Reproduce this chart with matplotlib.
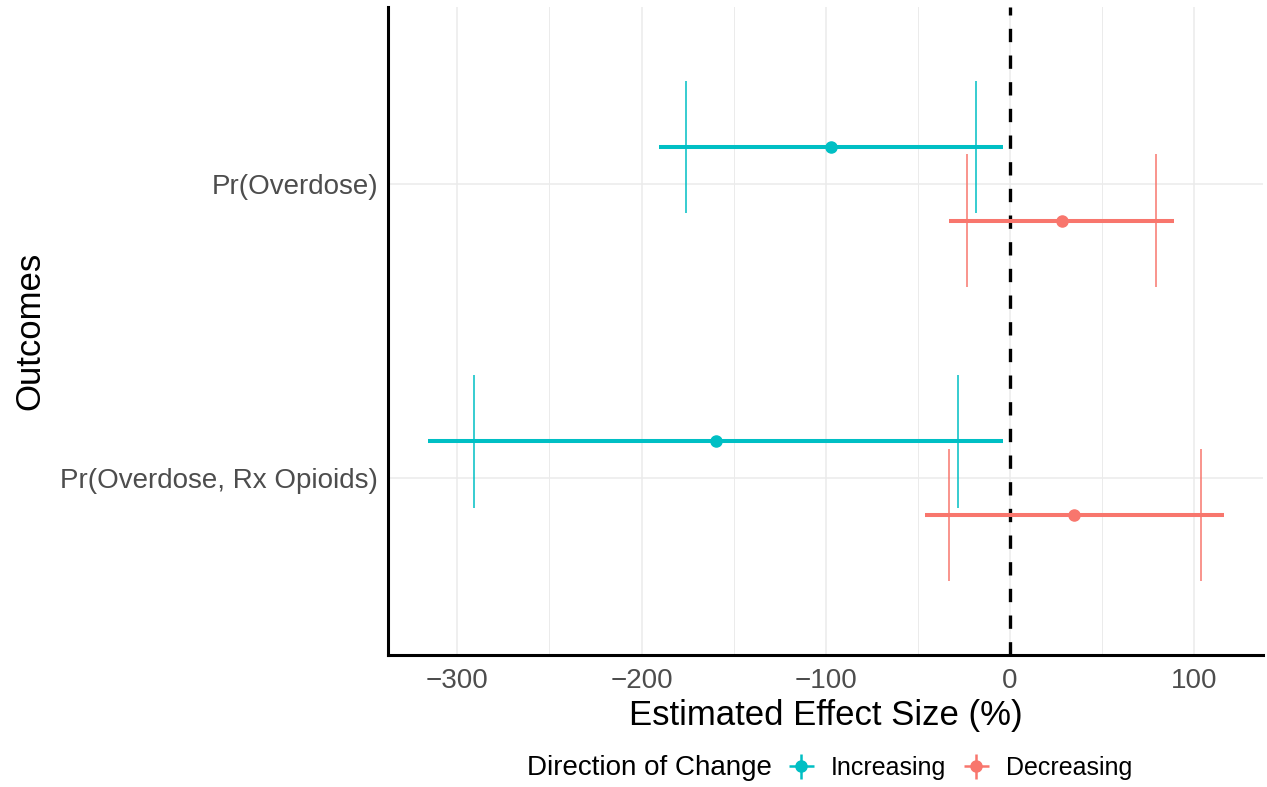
import matplotlib.pyplot as plt
from matplotlib.lines import Line2D
from matplotlib.legend_handler import HandlerTuple
import numpy as np

plt.rcParams['font.family'] = ['Liberation Sans', 'DejaVu Sans']

# Outcomes (top to bottom) and estimates in percent
outcomes = ['Pr(Overdose)', 'Pr(Overdose, Rx Opioids)']
groups = ['Increasing', 'Decreasing']

inc_est = [-97.3, -159.8]
inc_lo95 = [-190.5, -315.8]
inc_hi95 = [-3.8, -3.8]
inc_lo90 = [-175.6, -290.8]
inc_hi90 = [-18.6, -28.2]

dec_est = [28.0, 34.9]
dec_lo95 = [-33.0, -46.3]
dec_hi95 = [88.8, 116.3]
dec_lo90 = [-23.3, -33.1]
dec_hi90 = [79.2, 103.4]

colors = {'Increasing': '#00BFC4', 'Decreasing': '#F8766D'}
series = {
    'Increasing': (inc_est, inc_lo95, inc_hi95, inc_lo90, inc_hi90),
    'Decreasing': (dec_est, dec_lo95, dec_hi95, dec_lo90, dec_hi90),
}
offsets = {'Increasing': 0.125, 'Decreasing': -0.125}
cap_half = 0.225

fig = plt.figure(figsize=(12.67, 7.87), dpi=100)
ax = fig.add_axes([388 / 1267, 1 - 655 / 787, 875 / 1267, 648 / 787])

ypos = np.arange(len(outcomes))[::-1] + 1.0

# grid
for v in [-300, -200, -100, 0, 100]:
    ax.axvline(v, color='#EBEBEB', lw=1.1, zorder=0)
for v in [-250, -150, -50, 50]:
    ax.axvline(v, color='#EBEBEB', lw=0.7, zorder=0)
for y in ypos:
    ax.axhline(y, color='#EBEBEB', lw=1.1, zorder=0)

ax.axvline(0, color='black', lw=2.4, dashes=(4, 4), zorder=1)

for g in groups:
    est, lo95, hi95, lo90, hi90 = series[g]
    c = colors[g]
    for i in range(len(outcomes)):
        y = ypos[i] + offsets[g]
        ax.plot([lo95[i], hi95[i]], [y, y], color=c, lw=2.9, solid_capstyle='butt', zorder=3)
        ax.vlines([lo90[i], hi90[i]], y - cap_half, y + cap_half, color=c, lw=1.1, zorder=3)
        ax.plot(est[i], y, 'o', color=c, ms=8, zorder=4)

ax.set_xlim(-337.6, 137.3)
ax.set_ylim(0.4, 2.6)
ax.set_xticks([-300, -200, -100, 0, 100])
ax.set_xticklabels(['\u2212300', '\u2212200', '\u2212100', '0', '100'])
ax.set_yticks(ypos)
ax.set_yticklabels(outcomes)
ax.tick_params(length=0, labelsize=20, labelcolor='#4D4D4D')
ax.tick_params(axis='x', pad=9)
ax.tick_params(axis='y', pad=7)

for s in ['top', 'right']:
    ax.spines[s].set_visible(False)
for s in ['left', 'bottom']:
    ax.spines[s].set_linewidth(2.2)
    ax.spines[s].set_color('black')

ax.set_xlabel('Estimated Effect Size (%)', fontsize=25, labelpad=4)
ax.set_ylabel('Outcomes', fontsize=25, labelpad=10)

# legend at the bottom with the title on the left
fig.text(772 / 1267, 1 - 768 / 787, 'Direction of Change', ha='right', va='center', fontsize=20)
handles = []
for g in groups:
    c = colors[g]
    handles.append((Line2D([], [], color=c, marker='+', ls='none', ms=18, mew=1.8),
                    Line2D([], [], color=c, marker='o', ls='none', ms=8)))
fig.legend(handles, groups, loc='center left', bbox_to_anchor=(786 / 1267, 1 - 768 / 787),
           ncol=2, frameon=False, fontsize=18, handlelength=1.2, handletextpad=0.6,
           columnspacing=0.6, borderaxespad=0, borderpad=0,
           handler_map={tuple: HandlerTuple(ndivide=1)})

fig.savefig('out.png', dpi=100)
